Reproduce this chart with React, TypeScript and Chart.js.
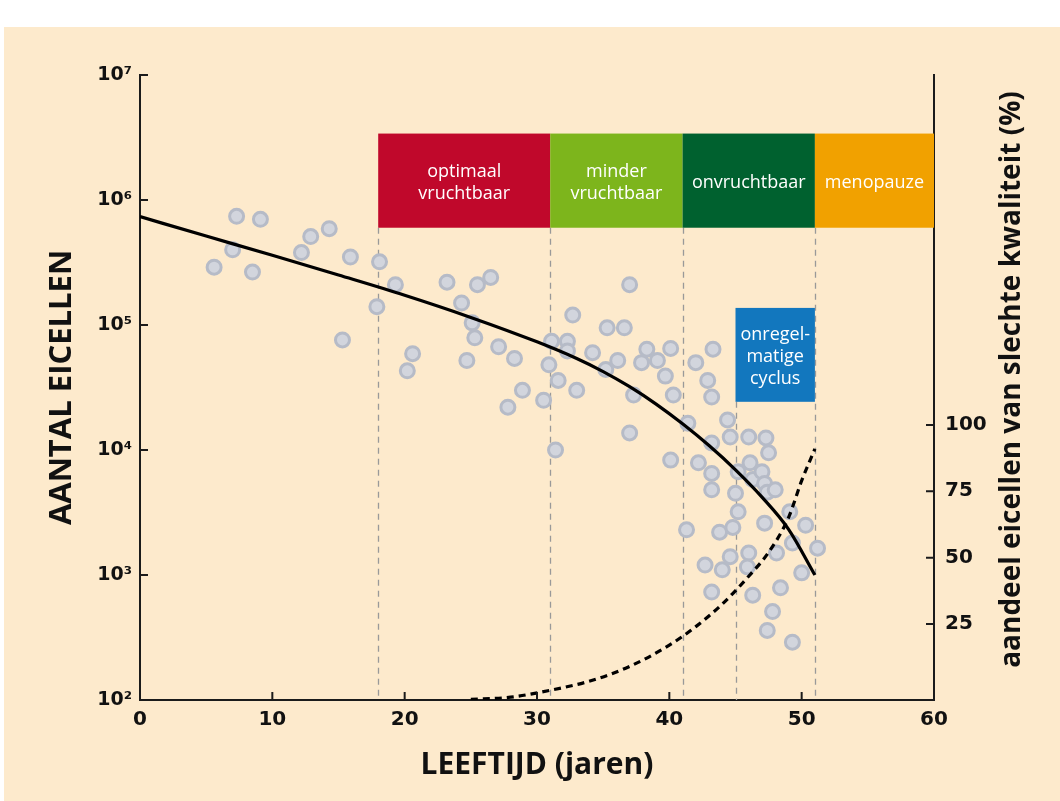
import React, { useEffect, useRef } from 'react';
import { Chart, registerables } from 'chart.js';

Chart.register(...registerables);

// ---- data ----
const pointAges = [
  5.6, 7.3, 7.0, 8.5, 9.1, 12.2, 12.9, 14.3, 15.3, 15.9,
  18.1, 17.9, 19.3, 20.6, 20.2, 23.2, 24.3, 25.1, 25.5, 26.5,
  24.7, 25.3, 27.1, 28.3, 27.8, 28.9, 30.5, 30.9, 31.1, 31.4,
  31.6, 32.3, 32.3, 32.7, 33.0, 34.2, 35.3, 35.2, 36.1, 36.6,
  37.0, 37.3, 37.0, 37.9, 38.3, 39.1, 39.7, 40.1, 40.1, 40.3,
  41.4, 42.0, 42.2, 41.3, 42.7, 42.9, 43.3, 43.2, 43.2, 43.2,
  43.2, 43.2, 44.0, 43.8, 44.4, 44.6, 45.0, 45.2, 45.2, 44.8,
  44.6, 46.0, 46.1, 46.3, 46.0, 45.9, 46.3, 47.0, 47.3, 47.5,
  47.2, 47.4, 47.2, 48.0, 48.1, 48.4, 47.8, 47.4, 49.1, 49.3,
  49.3, 50.3, 50.0, 51.2,
];
const pointCounts = [
  2.9e5, 7.4e5, 4.0e5, 2.65e5, 7.0e5, 3.8e5, 5.1e5, 5.9e5, 7.6e4, 3.5e5,
  3.2e5, 1.4e5, 2.1e5, 5.9e4, 4.3e4, 2.2e5, 1.5e5, 1.04e5, 2.1e5, 2.4e5,
  5.2e4, 7.9e4, 6.7e4, 5.4e4, 2.2e4, 3.0e4, 2.5e4, 4.8e4, 7.4e4, 1.0e4,
  3.6e4, 7.4e4, 6.2e4, 1.2e5, 3.0e4, 6.0e4, 9.5e4, 4.4e4, 5.2e4, 9.5e4,
  2.1e5, 2.75e4, 1.37e4, 5.0e4, 6.4e4, 5.2e4, 3.9e4, 6.5e4, 8.3e3, 2.75e4,
  1.64e4, 5.0e4, 7.9e3, 2.3e3, 1.2e3, 3.6e4, 6.4e4, 2.65e4, 1.14e4, 6.5e3,
  4.8e3, 730, 1.1e3, 2.2e3, 1.74e4, 1.27e4, 4.5e3, 6.7e3, 3.2e3, 2.4e3,
  1.4e3, 1.27e4, 7.9e3, 5.8e3, 1.5e3, 1.16e3, 690, 6.7e3, 1.25e4, 9.5e3,
  5.4e3, 4.6e3, 2.6e3, 4.8e3, 1.5e3, 790, 510, 360, 3.2e3, 1.8e3,
  290, 2.5e3, 1.04e3, 1.64e3,
];

const curveAges = [0, 5, 10, 15, 20, 25, 30, 33, 35, 37, 39, 41, 43, 45, 47, 49, 51];
const curveCounts = [7.36e5, 5.15e5, 3.61e5, 2.51e5, 1.73e5, 1.15e5, 7.33e4, 5.39e4, 4.24e4, 3.21e4, 2.33e4, 1.62e4, 1.085e4, 6.94e3, 4.2e3, 2.33e3, 1000];

const qualityAges = [25, 28, 31, 34, 37, 40, 42, 44, 46, 47.5, 49, 50, 51];
const qualityPct = [-3.4, -2.6, 0, 3.5, 9, 17, 24, 32.5, 43, 52, 65, 79, 91];

const yTickValues = [1e2, 1e3, 1e4, 1e5, 1e6, 1e7];
const y2TickValues = [25, 50, 75, 100];

const bandStarts = [18, 31, 41, 51];
const bandEnds = [31, 41, 51, 60];
const bandLabels = [['optimaal', 'vruchtbaar'], ['minder', 'vruchtbaar'], ['onvruchtbaar'], ['menopauze']];
const bandColors = ['#C0082B', '#7DB51C', '#00612F', '#F1A100'];
const bandTop = 3.4e6;
const bandBottom = 6.0e5;

const cycleStart = 45;
const cycleEnd = 51;
const cycleTop = 1.37e5;
const cycleBottom = 2.43e4;
const cycleLabel = ['onregel-', 'matige', 'cyclus'];
const cycleColor = '#1277BE';

const dividerAges = [18, 31, 41, 45, 51];
const dividerTops = [bandBottom, bandBottom, bandBottom, cycleBottom, bandBottom];

const SUP: Record<string, string> = { '2': '²', '3': '³', '4': '⁴', '5': '⁵', '6': '⁶', '7': '⁷' };
const AXIS = '#1b1b1b';
const TICK_LEN = 8;

export default function App() {
  const ref = useRef<HTMLCanvasElement>(null);

  useEffect(() => {
    document.body.style.margin = '0';
    const canvas = ref.current;
    if (!canvas) return;

    const decor = {
      id: 'decor',
      beforeDatasetsDraw(chart: any) {
        const { ctx, chartArea } = chart;
        const x = chart.scales.x;
        const y = chart.scales.y;
        ctx.save();
        // dashed dividers
        ctx.strokeStyle = '#999999';
        ctx.lineWidth = 1.3;
        ctx.setLineDash([6, 5]);
        dividerAges.forEach((a, i) => {
          const px = Math.round(x.getPixelForValue(a)) + 0.5;
          ctx.beginPath();
          ctx.moveTo(px, y.getPixelForValue(dividerTops[i]));
          ctx.lineTo(px, chartArea.bottom);
          ctx.stroke();
        });
        ctx.setLineDash([]);
        // life-phase bands
        const lh = 22;
        ctx.textAlign = 'center';
        ctx.textBaseline = 'middle';
        ctx.font = '18px "Open Sans"';
        bandStarts.forEach((s, i) => {
          const x0 = x.getPixelForValue(s);
          const x1 = x.getPixelForValue(bandEnds[i]);
          const y0 = y.getPixelForValue(bandTop);
          const y1 = y.getPixelForValue(bandBottom);
          ctx.fillStyle = bandColors[i];
          ctx.fillRect(x0, y0, x1 - x0, y1 - y0);
          ctx.fillStyle = '#ffffff';
          const lines = bandLabels[i];
          const cy = (y0 + y1) / 2 + 2 - ((lines.length - 1) * lh) / 2;
          lines.forEach((t, j) => ctx.fillText(t, (x0 + x1) / 2, cy + j * lh));
        });
        // irregular cycle box
        const cx0 = x.getPixelForValue(cycleStart);
        const cx1 = x.getPixelForValue(cycleEnd);
        const cy0 = y.getPixelForValue(cycleTop);
        const cy1 = y.getPixelForValue(cycleBottom);
        ctx.fillStyle = cycleColor;
        ctx.fillRect(cx0, cy0, cx1 - cx0, cy1 - cy0);
        ctx.fillStyle = '#ffffff';
        const ccy = (cy0 + cy1) / 2 + 2 - ((cycleLabel.length - 1) * lh) / 2;
        cycleLabel.forEach((t, j) => ctx.fillText(t, (cx0 + cx1) / 2, ccy + j * lh));
        ctx.restore();
      },
      afterDraw(chart: any) {
        const { ctx, chartArea } = chart;
        const { x, y, y2 } = chart.scales;
        ctx.save();
        // inward tick marks
        ctx.setLineDash([]);
        ctx.strokeStyle = AXIS;
        ctx.lineWidth = 2;
        ctx.beginPath();
        x.ticks.forEach((t: any) => {
          if (t.value <= x.min || t.value >= x.max) return;
          const px = x.getPixelForValue(t.value);
          ctx.moveTo(px, chartArea.bottom);
          ctx.lineTo(px, chartArea.bottom - TICK_LEN);
        });
        y.ticks.forEach((t: any) => {
          if (t.value <= y.min) return;
          const py = y.getPixelForValue(t.value);
          ctx.moveTo(chartArea.left - 1, py);
          ctx.lineTo(chartArea.left + TICK_LEN, py);
        });
        y2.ticks.forEach((t: any) => {
          const py = y2.getPixelForValue(t.value);
          ctx.moveTo(chartArea.right + 1, py);
          ctx.lineTo(chartArea.right - TICK_LEN, py);
        });
        ctx.stroke();
        // right-hand axis title (reads bottom to top)
        ctx.translate(y2.left + 78, (chartArea.top + chartArea.bottom) / 2 - 8);
        ctx.rotate(-Math.PI / 2);
        ctx.fillStyle = '#111111';
        ctx.textAlign = 'center';
        ctx.textBaseline = 'middle';
        ctx.font = 'bold 28px "Open Sans"';
        ctx.fillText('aandeel eicellen van slechte kwaliteit (%)', 0, 0);
        ctx.restore();
      },
    };

    const chart = new Chart(canvas, {
      type: 'scatter',
      data: {
        datasets: [
          {
            label: 'eicellen',
            data: pointAges.map((a, i) => ({ x: a, y: pointCounts[i] })),
            pointRadius: 7,
            pointBackgroundColor: '#D2D5DD',
            pointBorderColor: '#B6BBC7',
            pointBorderWidth: 3,
            order: 3,
            yAxisID: 'y',
          },
          {
            label: 'aantal',
            data: curveAges.map((a, i) => ({ x: a, y: curveCounts[i] })),
            showLine: true,
            pointRadius: 0,
            borderColor: '#000000',
            borderWidth: 3.2,
            cubicInterpolationMode: 'monotone',
            order: 1,
            yAxisID: 'y',
          },
          {
            label: 'kwaliteit',
            data: qualityAges.map((a, i) => ({ x: a, y: qualityPct[i] })),
            showLine: true,
            pointRadius: 0,
            borderColor: '#000000',
            borderWidth: 3.2,
            borderDash: [7, 5],
            cubicInterpolationMode: 'monotone',
            order: 1,
            yAxisID: 'y2',
          },
        ],
      } as any,
      options: {
        responsive: false,
        animation: false,
        devicePixelRatio: 1,
        layout: { padding: { top: 75, left: 0, right: 0, bottom: 0 } },
        plugins: { legend: { display: false }, tooltip: { enabled: false } },
        scales: {
          x: {
            type: 'linear',
            position: 'bottom',
            min: 0,
            max: 60,
            afterFit: (s: any) => { s.height = 101; },
            border: { display: true, color: AXIS, width: 2 },
            grid: { drawOnChartArea: false, drawTicks: false },
            ticks: {
              stepSize: 10,
              padding: 8,
              color: '#111111',
              font: { family: 'DejaVu Sans', weight: 'bold', size: 20 },
            },
            title: {
              display: true,
              text: 'LEEFTIJD (jaren)',
              color: '#111111',
              font: { family: 'Open Sans', weight: 'bold', size: 30 },
              padding: { top: 0, bottom: 18 },
            },
          },
          y: {
            type: 'logarithmic',
            position: 'left',
            min: 100,
            max: 1e7,
            afterFit: (s: any) => { s.width = 140; },
            afterBuildTicks: (s: any) => { s.ticks = yTickValues.map((v) => ({ value: v })); },
            border: { display: true, color: AXIS, width: 2 },
            grid: { drawOnChartArea: false, drawTicks: false },
            ticks: {
              padding: 8,
              color: '#111111',
              font: { family: 'DejaVu Sans', weight: 'bold', size: 19 },
              callback: (v: any) => '10' + SUP[String(Math.round(Math.log10(Number(v))))],
            },
            title: {
              display: true,
              text: 'AANTAL EICELLEN',
              color: '#111111',
              font: { family: 'Open Sans', weight: 'bold', size: 31 },
              padding: { top: 44, bottom: 0 },
            },
          },
          y2: {
            type: 'linear',
            position: 'right',
            min: -3.66,
            max: 231.9,
            afterFit: (s: any) => { s.width = 126; },
            afterBuildTicks: (s: any) => { s.ticks = y2TickValues.map((v) => ({ value: v })); },
            border: { display: true, color: AXIS, width: 2 },
            grid: { drawOnChartArea: false, drawTicks: false },
            ticks: {
              padding: 11,
              color: '#111111',
              font: { family: 'DejaVu Sans', weight: 'bold', size: 20 },
            },
          },
        },
      } as any,
      plugins: [decor],
    });

    return () => chart.destroy();
  }, []);

  return (
    <div style={{ position: 'relative', width: 1060, height: 801, background: '#ffffff', overflow: 'hidden' }}>
      <div style={{ position: 'absolute', left: 4, top: 27, right: 0, bottom: 0, background: '#FDEACC' }} />
      <canvas ref={ref} width={1060} height={801} style={{ position: 'absolute', left: 0, top: 0, width: 1060, height: 801 }} />
    </div>
  );
}
